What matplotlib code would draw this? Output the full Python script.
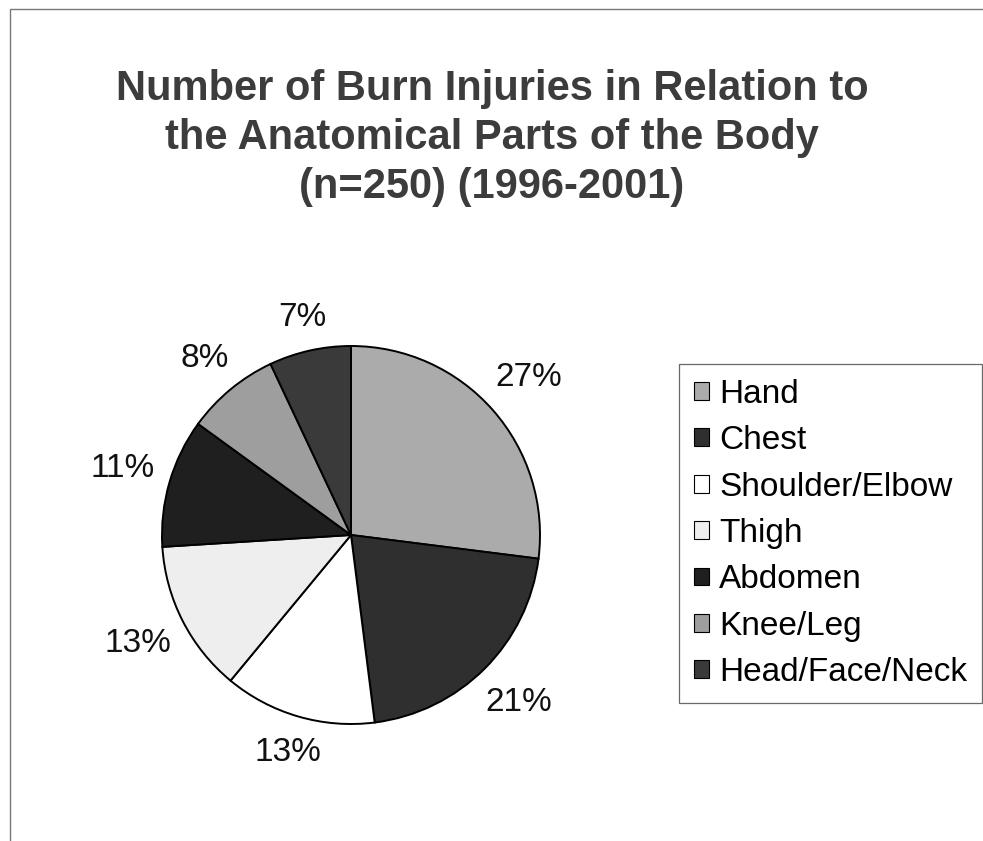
import numpy as np
import matplotlib
matplotlib.use("Agg")
import matplotlib.pyplot as plt
from matplotlib.patches import Rectangle

# --- Data ---
parts = ['Hand', 'Chest', 'Shoulder/Elbow', 'Thigh', 'Abdomen', 'Knee/Leg', 'Head/Face/Neck']
percent = [27, 21, 13, 13, 11, 8, 7]
shades = ['#ababab', '#2f2f2f', '#ffffff', '#eeeeee', '#1f1f1f', '#9e9e9e', '#3a3a3a']

title = ('Number of Burn Injuries in Relation to\n'
         'the Anatomical Parts of the Body\n'
         '(n=250) (1996-2001)')

plt.rcParams['font.family'] = ['Liberation Sans', 'DejaVu Sans']

W, H = 983, 841
fig = plt.figure(figsize=(W / 100, H / 100), dpi=100)

# thin frame around the chart area (only top/left visible in the scan)
fig.patches.append(Rectangle((10 / W, -0.1), 1.2, 1 - 9 / H + 0.1,
                             transform=fig.transFigure, fill=False,
                             edgecolor='#777777', linewidth=1.0))

fig.text(492 / W, 1 - 138 / H, title, ha='center', va='center',
         fontsize=30, fontweight='bold', color='#3c3c3c', linespacing=1.3)

# pie axes: centre (351, 535), radius 189 px
cx, cy, r = 351, 535, 189
ax = fig.add_axes([(cx - r) / W, (H - cy - r) / H, 2 * r / W, 2 * r / H])
wedges, texts = ax.pie(percent, colors=shades, startangle=90, counterclock=False,
                       labels=[f'{p}%' for p in percent], labeldistance=1.1,
                       wedgeprops=dict(edgecolor='black', linewidth=1.4),
                       textprops=dict(fontsize=24, color='#111111'))
ax.set_xlim(-1, 1)
ax.set_ylim(-1, 1)
ax.axis('off')

# push each label out so its box sits just outside the rim
fig.canvas.draw()
renderer = fig.canvas.get_renderer()
for w, t in zip(wedges, texts):
    ang = np.deg2rad((w.theta1 + w.theta2) / 2)
    bb = t.get_window_extent(renderer)
    half = (bb.width / 2 * abs(np.cos(ang)) + bb.height / 2 * abs(np.sin(ang))) / r
    d = 1.07 + half
    t.set_position((d * np.cos(ang), d * np.sin(ang)))
    t.set_ha('center')
    t.set_va('center')

leg = fig.legend(wedges, parts, loc='upper left',
                 bbox_to_anchor=(679 / W, 1 - 364 / H), bbox_transform=fig.transFigure,
                 borderaxespad=0, fontsize=24, frameon=True, fancybox=False,
                 handlelength=0.45, handleheight=0.45, handletextpad=0.3,
                 labelspacing=0.46, borderpad=0.45)
leg.get_frame().set_edgecolor('#444444')
leg.get_frame().set_linewidth(0.9)
for h in leg.legend_handles:
    h.set_linewidth(0.8)

fig.savefig('out.png', dpi=100)
